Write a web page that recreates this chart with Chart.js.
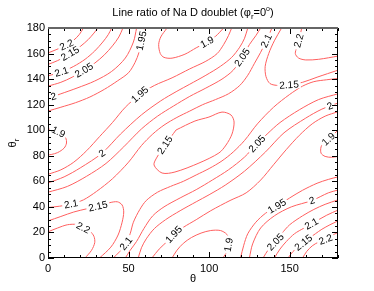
<!DOCTYPE html>
<html>
<head>
<meta charset="utf-8">
<script src="https://cdn.jsdelivr.net/npm/chart.js@4.4.1/dist/chart.umd.min.js"></script>
<style>
  html, body { margin: 0; padding: 0; background: #fff; }
  canvas { display: block; }
</style>
</head>
<body>
<canvas id="contourChart" width="374" height="291"></canvas>
<script>
// axis ticks
const xTicks = [0, 50, 100, 150];
const yTicks = [0, 20, 40, 60, 80, 100, 120, 140, 160, 180];

// contour lines, [theta, theta_r]
// top-left corner family
const tl220 = [[0,160.5],[5,163],[11.5,166.8],[16,170.5],[19.5,175],[22,180]];
const tl215 = [[0,151.5],[6,154.5],[13.7,160],[20,165.5],[25,171],[28.5,176],[31,180]];
const tl210 = [[0,142.5],[8.4,145.7],[16,150],[23,155.5],[29,162],[34,169],[37.5,175],[39.5,180]];
const tl205 = [[0,134.5],[8,137.5],[15,141.5],[22.3,147],[29,152.5],[35,159],[40,166],[44,173],[46.5,180]];
const tl200 = [[0,125.5],[3.4,126.5],[8,128.5],[18,133],[29,138.5],[39.5,146],[48,156.5],[53,169],[55,180]];
const tl195 = [[0,115],[8,118],[17,121.5],[26,126],[35,132],[43,138.5],[50,145],[54,153],[56.5,161],[58,170],[60,180]];
// lows on the edges
const left190 = [[0,101],[5,99.5],[9,97],[11,94],[11.5,90],[10,86],[6,82.5],[2,81],[0,80.8]];
const top190 = [[73.9,180],[70,173],[68.7,167],[69.7,160],[72,157],[77,156.4],[85,159.5],[92,164.5],[98.7,169],[104,173.5],[109,180]];
const right190 = [[180,100],[174,93],[171.5,90.5],[169.5,87],[169.5,82],[172,79.5],[176,78.8],[180,79.5]];
const bottom190 = [[77,0],[80,6],[84,11.5],[89,16],[95,19.5],[101,21.5],[107,21.5],[111,18.5],[112.5,13],[111.5,6],[108.5,0]];
// upper-left diagonals
const ul195 = [[0,65.5],[8,69],[16,75],[24,84],[32,95],[40,106],[48,118],[57,128],[66,135],[77,141],[88,148],[98,154],[105,160],[109,167],[112,174],[114,180]];
const ul200 = [[0,58.7],[10,63.5],[20,70.5],[33.5,82],[45,97],[58,112],[70,123],[80,130.5],[88,136],[98,143],[107,150],[114,157],[119,165],[122,172],[124,180]];
const ul205 = [[0,51.5],[12,56],[24,64],[36,74],[47,87],[58,101],[68,111],[78,119],[88,126.5],[98,133],[108,140],[115,147],[120.5,157],[125,167],[129,174],[132,180]];
const ul210 = [[0,39.5],[7,40.5],[14.3,42.2],[22,45.5],[30,52],[40,62],[50,75],[58,88],[65,97],[72,104],[80,110],[88,115],[96,120],[104,124],[112,128.5],[119,135],[124,143],[128,152],[132,161],[135.5,170],[139,180]];
// centre high
const mid215 = [[79.5,100.2],[91.2,107.2],[99.9,110.3],[108,114.2],[113.6,111.9],[115.5,106.4],[114.2,97],[110.5,88.4],[106.1,82.2],[93.7,74.3],[78.8,67.3],[70.8,66.5],[65.8,72.8],[67.7,79],[72.6,88.4],[79.5,100.2]];
// lower-right diagonals
const lr195 = [[64.5,0],[69,7],[74,13],[78,18.4],[84,24],[92,30],[101,37],[113,45],[123,51],[132,61],[140,73],[148,85],[156,96],[164,105],[172,111],[180,114.5]];
const lr200 = [[56,0],[58,8],[61,15],[66,23],[73,30],[82,37],[92,44],[100,49.5],[110,57],[122,68],[135,83],[146.5,98],[160,109.5],[170,116.5],[180,121.3]];
const lr205 = [[48,0],[51,6],[55,13],[59.5,23],[65,33],[72,40],[82,47],[92,53.5],[102,61],[112,69],[122,79],[129.7,89.4],[136,97],[144,106],[156,116],[168,124],[180,128.5]];
const lr210 = [[40.5,0],[44.5,5],[48.4,11.3],[51,19],[53,28],[57,38],[61,45],[68,51.5],[76,56],[84,60],[92,65],[100,70],[108,76],[115,83],[122,92],[130,105],[140,118],[150,128],[158,134.5],[165,138],[173,139.5],[180,140.5]];
// top-right corner family
const tr220 = [[157.5,180],[156,172],[154.5,165],[153.5,160],[155.5,156.5],[160,155],[168,155.5],[180,158]];
const tr215 = [[145,180],[140.5,170],[137,160],[134.8,150],[135.3,142],[137.8,136.5],[143,135],[149.6,135.5],[158,137.5],[167,141.5],[180,147]];
// bottom-left corner family
const bl220 = [[0,20.5],[6,23.5],[12,26],[18,26.2],[21.9,23.6],[26,21],[28.5,17],[29,12],[27,6],[23,0]];
const bl215 = [[0,29],[8,32.5],[16,36],[24,38.5],[31,40.5],[38,43.2],[43,44],[46,41.5],[47,36],[46,28],[43.5,18],[39,8.5],[32,0]];
// bottom-right corner family
const br220 = [[158,0],[160.5,5],[164,9.5],[168,12.5],[172.3,14.5],[176,17.5],[180,20]];
const br215 = [[149,0],[152,5],[156,9.5],[161,14.5],[166,19],[170,22.5],[175,26],[180,29]];
const br210 = [[140.5,0],[144,7],[148,13],[153,19],[159,23.5],[166,28.5],[173,33.5],[180,37.5]];
const br205 = [[133.5,0],[137,7],[141.2,12.5],[145,19],[150,26],[158,33],[165,38],[172,42],[180,45.5]];
const br200 = [[125,0],[127,11],[132,23.5],[140.5,33],[151,40],[163.9,45],[174,51],[180,53.2]];
const br195 = [[119.5,0],[121.5,10],[124,19],[129,28],[135,35],[142.1,40.5],[150,47],[158,53],[167,58.5],[174,61.5],[180,63.5]];

const contours = [
  { level: '2.2',  pts: tl220,     labels: [[11.5,166.8]] },
  { level: '2.15', pts: tl215,     labels: [[13.7,160]] },
  { level: '2.1',  pts: tl210,     labels: [[8.4,145.7]] },
  { level: '2.05', pts: tl205,     labels: [[22.3,147]] },
  { level: '2',    pts: tl200,     labels: [[3.4,126.5]] },
  { level: '1.95', pts: tl195,     labels: [[58,170]] },
  { level: '1.9',  pts: left190,   labels: [[6.4,98.6]] },
  { level: '1.9',  pts: top190,    labels: [[98.7,169]] },
  { level: '1.9',  pts: right190,  labels: [[174.1,93]] },
  { level: '1.9',  pts: bottom190, labels: [[111.3,10.5]] },
  { level: '1.95', pts: ul195,     labels: [[57,128]] },
  { level: '2',    pts: ul200,     labels: [[33.5,82]] },
  { level: '2.05', pts: ul205,     labels: [[120.5,157]] },
  { level: '2.1',  pts: ul210,     labels: [[14.3,42.2],[135.5,170]] },
  { level: '2.15', pts: mid215,    labels: [[72.6,88.4]] },
  { level: '1.95', pts: lr195,     labels: [[78,18.4]] },
  { level: '2',    pts: lr200,     labels: [[175,119]] },
  { level: '2.05', pts: lr205,     labels: [[129.7,89.4]] },
  { level: '2.1',  pts: lr210,     labels: [[48.4,11.3]] },
  { level: '2.2',  pts: tr220,     labels: [[155.5,170]] },
  { level: '2.15', pts: tr215,     labels: [[149.6,135.5]] },
  { level: '2.2',  pts: bl220,     labels: [[21.9,23.6]] },
  { level: '2.15', pts: bl215,     labels: [[31,40.5]] },
  { level: '2.2',  pts: br220,     labels: [[172.3,14.5]] },
  { level: '2.15', pts: br215,     labels: [[158.6,12]] },
  { level: '2.1',  pts: br210,     labels: [[163.6,26.5]] },
  { level: '2.05', pts: br205,     labels: [[141.2,12.5]] },
  { level: '2',    pts: br200,     labels: [[163.9,45]] },
  { level: '1.95', pts: br195,     labels: [[142.1,40.5]] }
];

const FONT = '"Liberation Sans", Arial, sans-serif';

// contour labels: white patch over the line, then the text along it
const contourLabels = {
  id: 'contourLabels',
  afterDatasetsDraw(chart) {
    const ctx = chart.ctx;
    const xs = chart.scales.x, ys = chart.scales.y;
    ctx.save();
    ctx.font = '10px ' + FONT;
    ctx.textAlign = 'center';
    ctx.textBaseline = 'middle';
    contours.forEach(c => {
      const px = c.pts.map(p => [xs.getPixelForValue(p[0]), ys.getPixelForValue(p[1])]);
      c.labels.forEach(l => {
        const lx = xs.getPixelForValue(l[0]), ly = ys.getPixelForValue(l[1]);
        // nearest point on the polyline
        let best = null;
        for (let i = 0; i < px.length - 1; i++) {
          const [x1, y1] = px[i], [x2, y2] = px[i + 1];
          const dx = x2 - x1, dy = y2 - y1;
          const len2 = dx * dx + dy * dy || 1;
          let t = ((lx - x1) * dx + (ly - y1) * dy) / len2;
          t = Math.max(0, Math.min(1, t));
          const qx = x1 + t * dx, qy = y1 + t * dy;
          const d = (qx - lx) ** 2 + (qy - ly) ** 2;
          if (!best || d < best.d) best = { d, qx, qy, a: Math.atan2(dy, dx) };
        }
        let a = best.a;
        if (a > Math.PI / 2) a -= Math.PI;
        if (a < -Math.PI / 2) a += Math.PI;
        const w = ctx.measureText(c.level).width;
        ctx.save();
        ctx.translate(best.qx, best.qy);
        ctx.rotate(a);
        ctx.fillStyle = '#fff';
        ctx.fillRect(-w / 2 - 2, -4, w + 4, 8);
        ctx.fillStyle = '#000';
        ctx.fillText(c.level, 0, 0.5);
        ctx.restore();
      });
    });
    ctx.restore();
  }
};

// box with inward ticks, title and axis names
const frame = {
  id: 'frame',
  afterDraw(chart) {
    const ctx = chart.ctx;
    const a = chart.chartArea;
    const xs = chart.scales.x, ys = chart.scales.y;
    ctx.save();
    ctx.strokeStyle = '#000';
    ctx.lineWidth = 1;
    ctx.strokeRect(Math.round(a.left) + 0.5, Math.round(a.top) + 0.5,
      Math.round(a.right - a.left) - 1, Math.round(a.bottom - a.top) - 1);
    ctx.beginPath();
    for (let v = 0; v <= 180; v += 10) {
      const x = Math.round(xs.getPixelForValue(v)) + 0.5;
      const len = v % 50 === 0 ? 6 : 3;
      ctx.moveTo(x, a.bottom); ctx.lineTo(x, a.bottom - len);
      ctx.moveTo(x, a.top); ctx.lineTo(x, a.top + len);
    }
    for (let v = 0; v <= 180; v += 5) {
      const y = Math.round(ys.getPixelForValue(v)) + 0.5;
      const len = v % 20 === 0 ? 6 : 3;
      ctx.moveTo(a.left, y); ctx.lineTo(a.left + len, y);
      ctx.moveTo(a.right, y); ctx.lineTo(a.right - len, y);
    }
    ctx.stroke();
    // top edge looks heavier and greyer in the original
    ctx.strokeStyle = '#666';
    ctx.lineWidth = 2;
    ctx.beginPath();
    ctx.moveTo(a.left, Math.round(a.top));
    ctx.lineTo(a.right, Math.round(a.top));
    ctx.stroke();

    ctx.fillStyle = '#000';
    ctx.textBaseline = 'alphabetic';
    // title
    const cx = (a.left + a.right) / 2;
    const parts = [
      { t: 'Line ratio of Na D doublet (\u03c6', s: 11, dy: 0 },
      { t: 'r', s: 8, dy: 3 },
      { t: '=0', s: 11, dy: 0 },
      { t: 'o', s: 7, dy: -5 },
      { t: ')', s: 11, dy: 0 }
    ];
    let total = 0;
    parts.forEach(p => { ctx.font = p.s + 'px ' + FONT; p.w = ctx.measureText(p.t).width; total += p.w; });
    let x = cx - total / 2;
    ctx.textAlign = 'left';
    parts.forEach(p => { ctx.font = p.s + 'px ' + FONT; ctx.fillText(p.t, x, 16 + p.dy); x += p.w; });

    // x name
    ctx.font = '11px ' + FONT;
    ctx.textAlign = 'center';
    ctx.fillText('\u03b8', cx, 282);
    // y name, rotated
    ctx.save();
    ctx.translate(16, (a.top + a.bottom) / 2);
    ctx.rotate(-Math.PI / 2);
    ctx.textAlign = 'left';
    ctx.font = '11px ' + FONT;
    const tw = ctx.measureText('\u03b8').width;
    ctx.font = '8px ' + FONT;
    const rw = ctx.measureText('r').width;
    const start = -(tw + rw) / 2;
    ctx.font = '11px ' + FONT;
    ctx.fillText('\u03b8', start, 0);
    ctx.font = '8px ' + FONT;
    ctx.fillText('r', start + tw, 3);
    ctx.restore();
    ctx.restore();
  }
};

const ctx = document.getElementById('contourChart').getContext('2d');
new Chart(ctx, {
  type: 'scatter',
  data: {
    datasets: contours.map(c => ({
      label: c.level,
      data: c.pts.map(p => ({ x: p[0], y: p[1] })),
      showLine: true,
      borderColor: 'rgb(255,95,95)',
      borderWidth: 1,
      pointRadius: 0,
      tension: 0.3,
      fill: false
    }))
  },
  options: {
    responsive: false,
    animation: false,
    devicePixelRatio: 1,
    layout: { padding: { left: 0, right: 36, top: 28, bottom: 0 } },
    plugins: {
      legend: { display: false },
      tooltip: { enabled: false },
      title: { display: false }
    },
    scales: {
      x: {
        type: 'linear',
        min: 0,
        max: 180,
        afterBuildTicks: s => { s.ticks = xTicks.map(v => ({ value: v })); },
        afterFit: s => { s.height = 33; },
        grid: { display: false, drawTicks: false },
        border: { display: false },
        ticks: { color: '#000', font: { family: FONT, size: 11 }, padding: 4, maxRotation: 0, autoSkip: false }
      },
      y: {
        type: 'linear',
        min: 0,
        max: 180,
        afterBuildTicks: s => { s.ticks = yTicks.map(v => ({ value: v })); },
        afterFit: s => { s.width = 48; },
        grid: { display: false, drawTicks: false },
        border: { display: false },
        ticks: { color: '#000', font: { family: FONT, size: 11 }, padding: 3, autoSkip: false }
      }
    }
  },
  plugins: [contourLabels, frame]
});
</script>
</body>
</html>
